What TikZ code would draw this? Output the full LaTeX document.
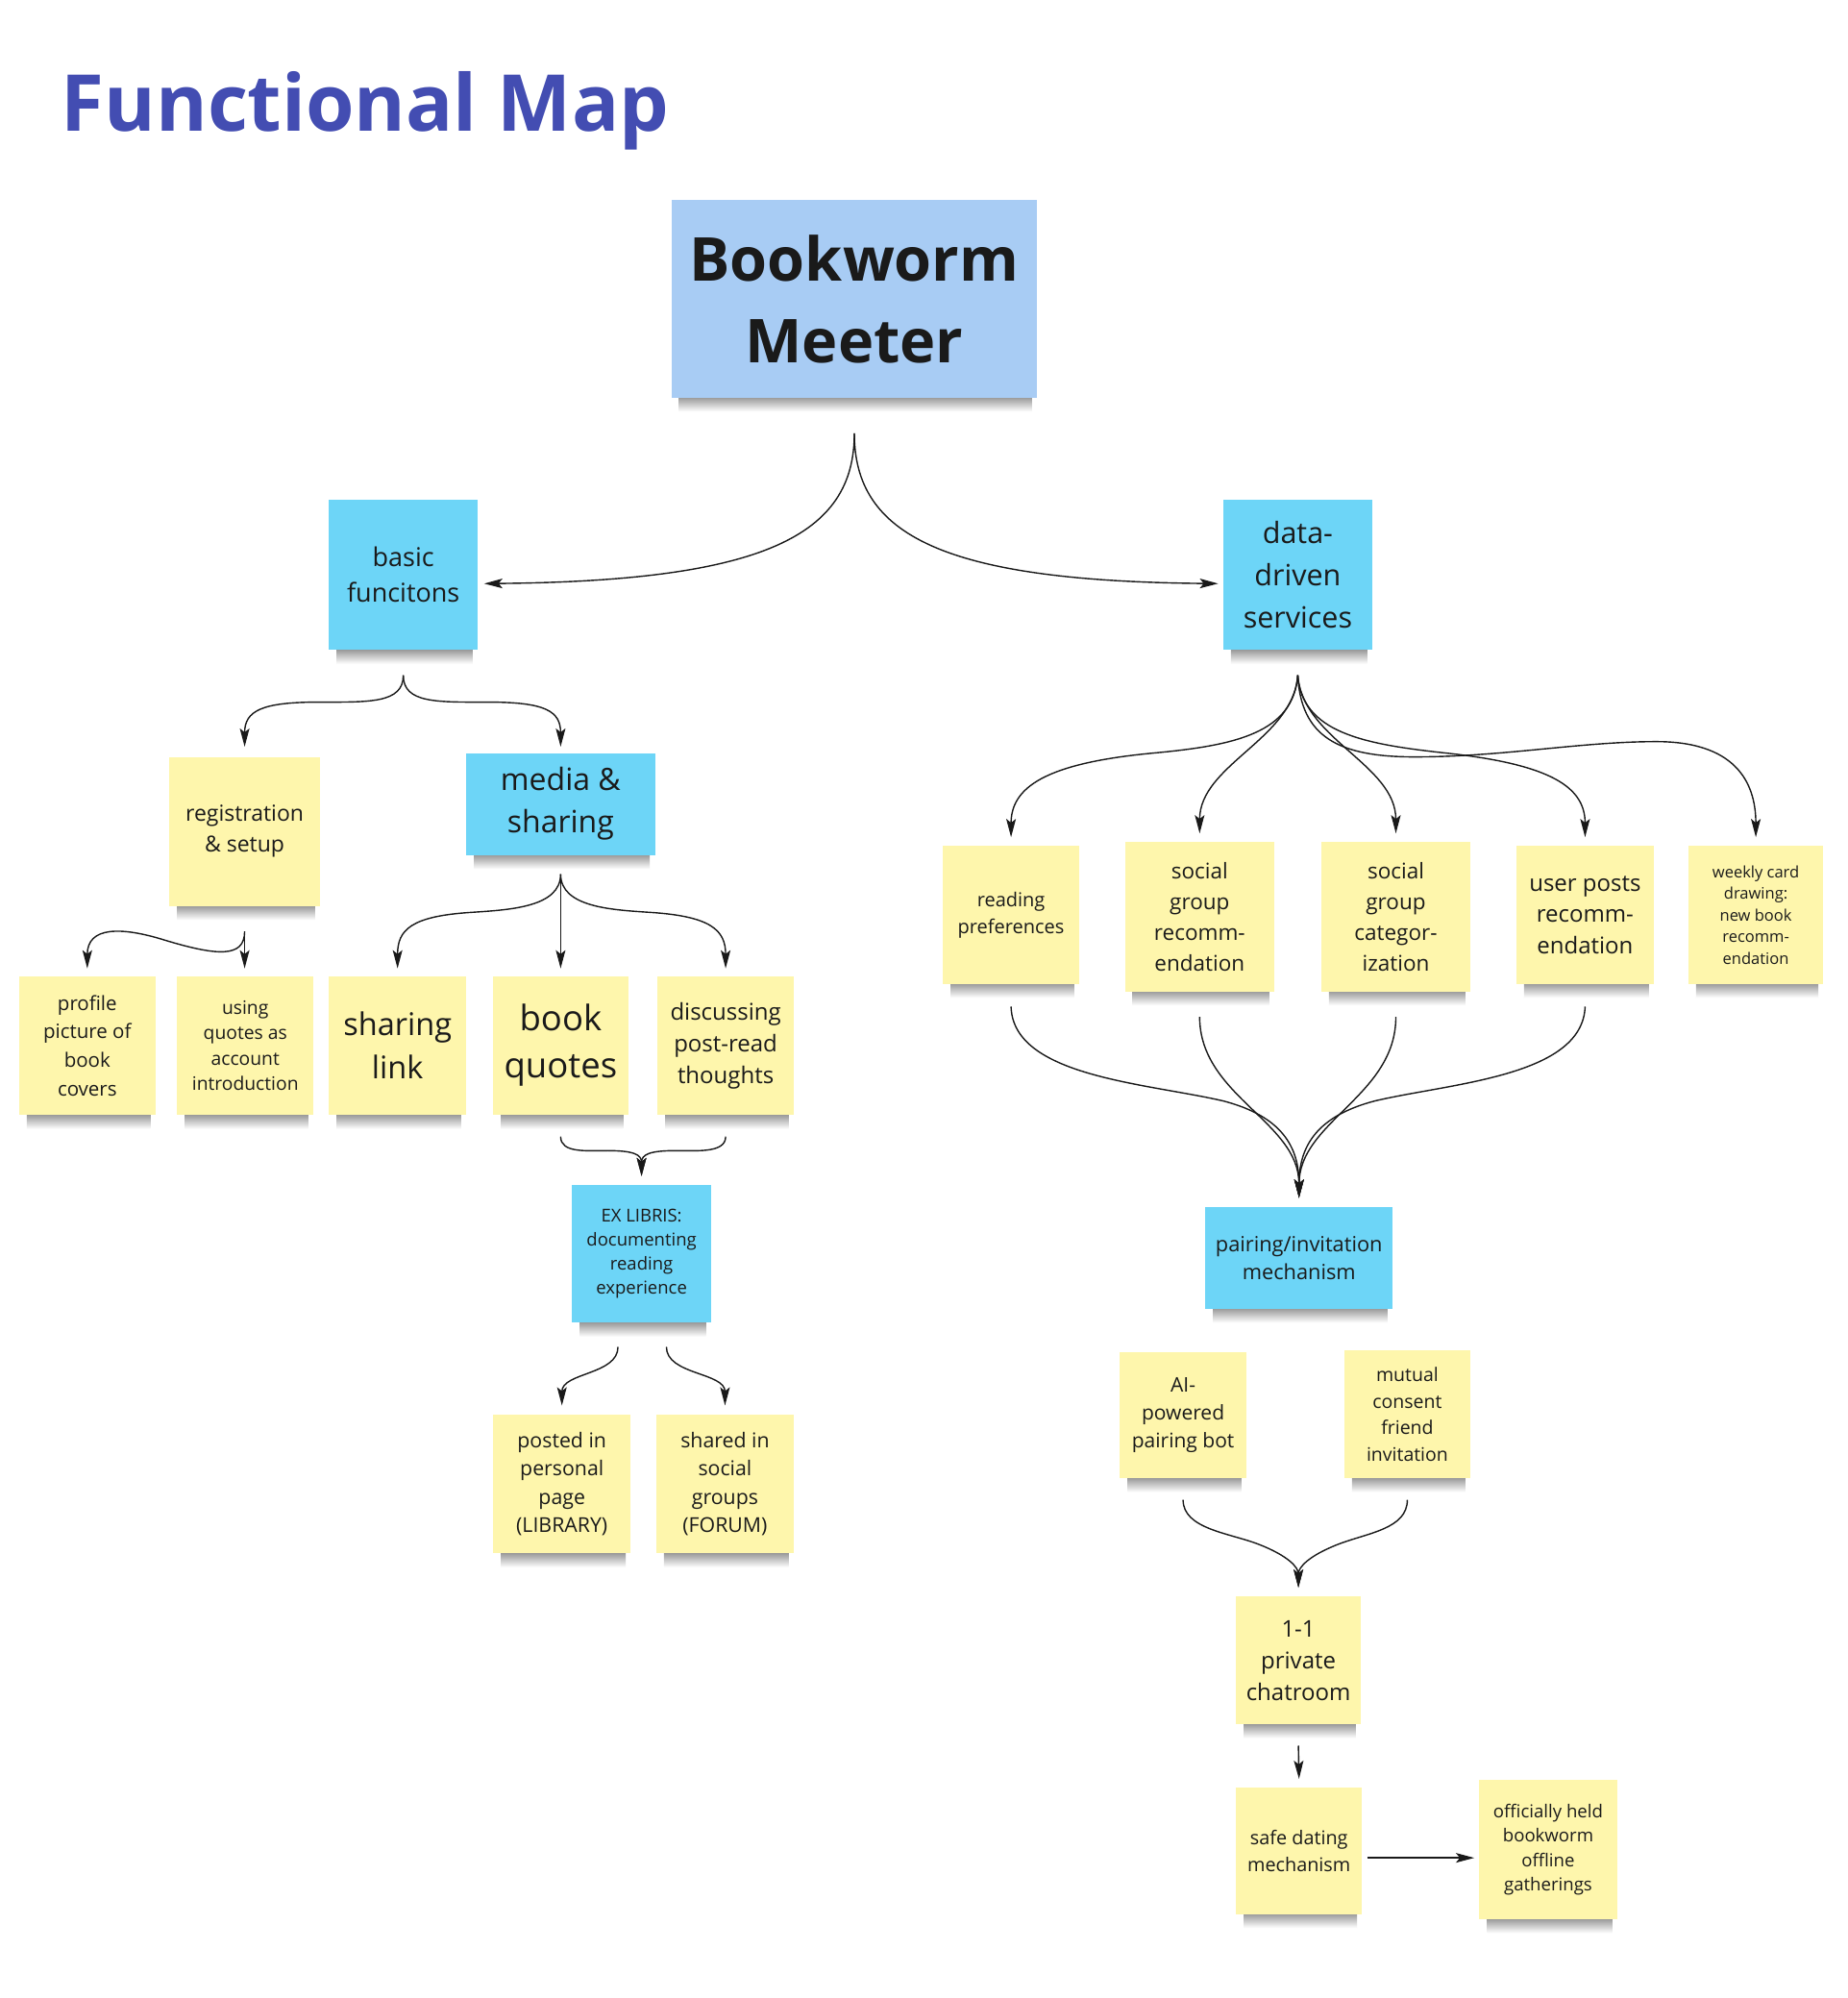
\documentclass[tikz,border=0pt]{standalone}
\usepackage{fontspec}
\setmainfont{Open Sans}
\usetikzlibrary{arrows.meta,calc}
\definecolor{notey}{RGB}{254,246,172}
\definecolor{noteb}{RGB}{109,213,247}
\definecolor{notemain}{RGB}{168,204,244}
\definecolor{titlecol}{RGB}{67,77,178}
\definecolor{txtcol}{RGB}{26,26,26}
\newcommand\mknote[9]{%
  \shade[top color=black!50, bottom color=white] ({#2+6},{#5-3}) rectangle ({#4-4},{#5+11});
  \node[notebox, fill=#6, minimum width={(#4-#2)*1.3262pt}, minimum height={(#5-#3)*1.3262pt},
        font=\fontsize{#7}{#8}\selectfont] (#1) at ({(#2+#4)/2},{(#3+#5)/2}) {#9};}
\begin{document}
\begin{tikzpicture}[x=1.3262pt,y=-1.3262pt,
  notebox/.style={inner sep=0pt, outer sep=0pt, align=center, text=txtcol},
  arr/.style={line width=1.4pt, draw=black!90, -{Stealth[length=19pt,width=10pt,inset=4pt]}}]
\useasboundingbox[fill=white] (0,0) rectangle (1450,1568);

\node[anchor=base west, text=titlecol, inner sep=0pt, font=\fontsize{81.7}{90}\selectfont\bfseries] (title) at (48,103) {Functional Map};

\mknote{bw}{527}{157}{814}{312}{notemain}{63}{85}{\bfseries Bookworm\\\bfseries Meeter}
\mknote{basic}{258}{392}{375}{510}{noteb}{27}{37}{basic\\funcitons}
\mknote{dd}{960}{392}{1077}{510}{noteb}{30.5}{44}{data-\\driven\\services}
\mknote{reg}{133}{594}{251}{711}{notey}{23}{32}{registration\\\& setup}
\mknote{media}{366}{591}{514}{671}{noteb}{32}{44}{media \&\\sharing}
\mknote{prof}{15}{766}{122}{875}{notey}{20.5}{29.6}{profile\\picture of\\book\\covers}
\mknote{usq}{139}{766}{246}{875}{notey}{19.3}{26.5}{using\\quotes as\\account\\introduction}
\mknote{shl}{258}{766}{366}{875}{notey}{32.5}{45}{sharing\\link}
\mknote{bookq}{387}{766}{493}{875}{notey}{36.5}{49}{book\\quotes}
\mknote{disc}{516}{766}{623}{875}{notey}{24}{33}{discussing\\post-read\\thoughts}
\mknote{ex}{449}{930}{558}{1038}{noteb}{18.5}{25}{EX LIBRIS:\\documenting\\reading\\experience}
\mknote{post}{387}{1110}{495}{1219}{notey}{21.3}{29.6}{posted in\\personal\\page\\(LIBRARY)}
\mknote{shar}{515}{1110}{623}{1219}{notey}{21.3}{29.6}{shared in\\social\\groups\\(FORUM)}
\mknote{rp}{740}{664}{847}{772}{notey}{20}{28}{reading\\preferences}
\mknote{sgr}{883}{661}{1000}{778}{notey}{22.5}{32}{social\\group\\recomm-\\endation}
\mknote{sgc}{1037}{661}{1154}{778}{notey}{22.5}{32}{social\\group\\categor-\\ization}
\mknote{up}{1190}{664}{1298}{772}{notey}{24}{32.5}{user posts\\recomm-\\endation}
\mknote{wk}{1325}{664}{1431}{772}{notey}{16.5}{22.5}{weekly card\\drawing:\\new book\\recomm-\\endation}
\mknote{pim}{946}{947}{1093}{1027}{noteb}{21.8}{29}{pairing/invitation\\mechanism}
\mknote{ai}{879}{1061}{978}{1160}{notey}{21}{29}{AI-\\powered\\pairing bot}
\mknote{mc}{1055}{1060}{1154}{1160}{notey}{19.5}{27.4}{mutual\\consent\\friend\\invitation}
\mknote{pc}{970}{1253}{1068}{1353}{notey}{24}{33}{1-1\\private\\chatroom}
\mknote{sd}{970}{1403}{1069}{1502}{notey}{19.8}{28}{safe dating\\mechanism}
\mknote{off}{1161}{1397}{1269}{1506}{notey}{18.6}{25.6}{officially held\\bookworm\\offline\\gatherings}

% top level
\draw[arr] ($(bw.south)+(0,28)$) coordinate (bwo) .. controls (670.5,420) and (600,456) .. ($(basic.east)+(5,7)$);
\draw[arr] (bwo) .. controls (670.5,420) and (740,456) .. ($(dd.west)+(-4,7)$);

% basic functions
\draw[arr] ($(basic.south)+(0,20)$) coordinate (bo) .. controls (316.5,552) and (290,551) .. (250,551) .. controls (205,551) and (192,558) .. ($(reg.north)+(0,-8)$);
\draw[arr] (bo) .. controls (316.5,552) and (343,551) .. (383,551) .. controls (428,551) and (440,558) .. ($(media.north)+(0,-5)$);

% registration
\draw[arr] ($(reg.south)+(0,20)$) coordinate (ro) -- ($(reg.south)+(0,49)$);
\draw[arr] (ro) .. controls (192,752) and (170,750) .. (130,738) .. controls (95,727) and (68.5,727) .. ($(prof.north)+(0,-6)$);

% media
\draw[arr] ($(media.south)+(0,15)$) coordinate (mo) -- ($(bookq.north)+(0,-6)$);
\draw[arr] (mo) .. controls (440,712) and (400,714) .. (370,716) .. controls (322,719) and (312,730) .. ($(shl.north)+(0,-6)$);
\draw[arr] (mo) .. controls (440,712) and (480,714) .. (510,716) .. controls (558,719) and (569.5,730) .. ($(disc.north)+(0,-6)$);

% ex libris
\draw[arr] ($(bookq.south)+(0,17)$) .. controls (440,905) and (460,903) .. (477,903) .. controls (497,903) and (503.5,906) .. ($(ex.north)+(0,-7)$);
\draw[arr] ($(disc.south)+(0,17)$) .. controls (569.5,905) and (547,903) .. (530,903) .. controls (510,903) and (503.5,906) .. ($(ex.north)+(0,-7)$);
\draw[arr] ($(ex.south)+(-18.5,19)$) .. controls +(0,22) and +(0,-26) .. ($(post.north)+(0,-7)$);
\draw[arr] ($(ex.south)+(19.5,19)$) .. controls +(0,22) and +(0,-26) .. ($(shar.north)+(0,-7)$);

% data-driven
\draw[arr] ($(dd.south)+(0,20)$) coordinate (ddo) .. controls (1015,575) and (970,585) .. (905,591) .. controls (820,599) and (793.5,618) .. ($(rp.north)+(0,-7)$);
\draw[arr] (ddo) .. controls (1015,580) and (941.5,600) .. ($(sgr.north)+(0,-7)$);
\draw[arr] (ddo) .. controls (1022,580) and (1095.5,600) .. ($(sgc.north)+(0,-7)$);
\draw[arr] (ddo) .. controls (1022,575) and (1070,584) .. (1135,591) .. controls (1218,600) and (1244,618) .. ($(up.north)+(0,-7)$);
\draw[arr] (ddo) .. controls (1021,578) and (1050,594) .. (1110,594) .. controls (1180,594) and (1240,582) .. (1300,582) .. controls (1360,582) and (1378,612) .. ($(wk.north)+(0,-7)$);

% converge to pairing
\coordinate (pimin) at ($(pim.north)+(0,-7)$);
\draw[arr] ($(rp.south)+(0,18)$) .. controls (795,845) and (900,850) .. (960,864) .. controls (1006,876) and (1019.5,900) .. (pimin);
\draw[arr] ($(sgr.south)+(0,20)$) .. controls (941.5,860) and (1019.5,880) .. (pimin);
\draw[arr] ($(sgc.south)+(0,20)$) .. controls (1095.5,860) and (1019.5,880) .. (pimin);
\draw[arr] ($(up.south)+(0,18)$) .. controls (1242,845) and (1138,850) .. (1079,864) .. controls (1033,876) and (1019.5,900) .. (pimin);

% to chatroom
\coordinate (pcin) at ($(pc.north)+(0,-7)$);
\draw[arr] ($(ai.south)+(0,17)$) .. controls (928.5,1200) and (965,1203) .. (988,1212) .. controls (1011,1221) and (1019,1230) .. (pcin);
\draw[arr] ($(mc.south)+(0,17)$) .. controls (1104.5,1200) and (1073,1203) .. (1050,1212) .. controls (1027,1221) and (1019,1230) .. (pcin);

\draw[arr] ($(pc.south)+(0,17)$) -- ($(sd.north)+(0,-7)$);
\draw[arr] ($(sd.east)+(4,5.5)$) -- ($(off.west)+(-4,6.5)$);
\end{tikzpicture}
\end{document}
